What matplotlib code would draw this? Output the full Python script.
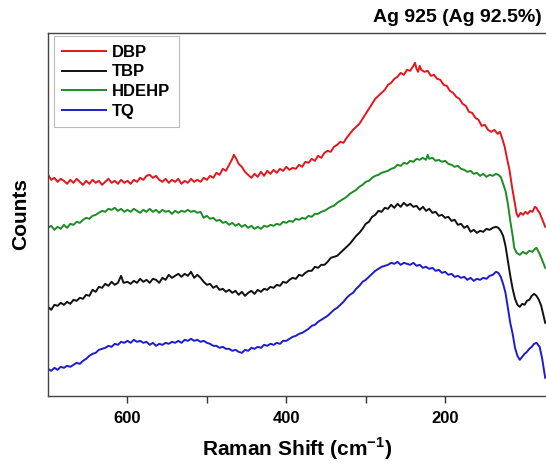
"""
Raman spectra of Ag 925 with the four extractants, stacked
"""

import numpy as np
import matplotlib
matplotlib.use("Agg")
import matplotlib.pyplot as plt
from matplotlib.ticker import FixedLocator

plt.rcParams["font.family"] = ["Liberation Sans", "DejaVu Sans"]
plt.rcParams["mathtext.fontset"] = "custom"
plt.rcParams["mathtext.rm"] = "Liberation Sans"
plt.rcParams["mathtext.bf"] = "Liberation Sans:bold"

# (Raman shift [cm-1], counts), offset arbitrary units
dbp_points = [
    (700, 221), (696, 216), (692, 218), (688, 214), (684, 217), (680, 215), (676, 212),
    (672, 216), (668, 213), (664, 217), (660, 214), (656, 211), (652, 215), (648, 212),
    (644, 216), (640, 213), (636, 215), (632, 211), (628, 214), (624, 217), (620, 213),
    (616, 215), (612, 212), (608, 216), (604, 213), (600, 215), (596, 212), (592, 216),
    (588, 214), (584, 218), (580, 216), (576, 220), (572, 221), (568, 218), (564, 220),
    (560, 216), (556, 214), (552, 217), (548, 213), (544, 216), (540, 214), (536, 217),
    (532, 212), (528, 215), (524, 213), (520, 217), (516, 214), (512, 216), (508, 214),
    (504, 218), (500, 216), (496, 220), (492, 218), (488, 223), (484, 221), (480, 227),
    (476, 225), (472, 231), (468, 237), (466, 241), (463, 237), (460, 232), (456, 229),
    (452, 224), (448, 221), (444, 218), (440, 222), (436, 219), (432, 224), (428, 220),
    (424, 225), (420, 222), (416, 226), (412, 223), (408, 227), (404, 225), (400, 229),
    (396, 226), (392, 228), (388, 227), (384, 231), (380, 229), (376, 234), (372, 233),
    (368, 237), (364, 235), (360, 240), (356, 238), (352, 243), (348, 245), (344, 244),
    (340, 249), (336, 251), (332, 254), (328, 253), (324, 258), (320, 262), (316, 266),
    (312, 269), (308, 272), (304, 277), (300, 282), (296, 287), (292, 292), (288, 297),
    (284, 300), (280, 303), (276, 306), (272, 311), (268, 313), (264, 317), (260, 319),
    (256, 323), (252, 321), (248, 326), (244, 325), (240, 330), (238, 333), (236, 327),
    (234, 324), (232, 330), (230, 326), (226, 324), (222, 325), (218, 320), (214, 321),
    (210, 317), (206, 316), (202, 311), (198, 310), (194, 305), (190, 303), (186, 299),
    (182, 297), (178, 292), (174, 290), (170, 284), (166, 283), (162, 278), (158, 276),
    (154, 270), (150, 271), (146, 266), (142, 264), (138, 266), (134, 262), (131, 264),
    (128, 257), (125, 249), (122, 237), (119, 226), (116, 210), (113, 196), (110, 182),
    (108, 179), (105, 183), (102, 181), (99, 184), (96, 182), (93, 185), (90, 184),
    (87, 189), (85, 188), (83, 185), (81, 183), (78, 177), (74, 169),
]

tbp_points = [
    (700, 89), (696, 86), (692, 91), (688, 90), (684, 93), (680, 91), (676, 94),
    (672, 92), (668, 96), (664, 95), (660, 98), (656, 97), (652, 101), (648, 100),
    (644, 106), (640, 104), (636, 109), (632, 108), (628, 112), (624, 110), (620, 114),
    (616, 111), (612, 113), (608, 120), (605, 113), (600, 114), (596, 112), (592, 115),
    (588, 113), (584, 117), (580, 114), (576, 116), (572, 113), (568, 117), (564, 116),
    (560, 113), (556, 118), (552, 116), (548, 121), (544, 118), (540, 120), (536, 122),
    (532, 119), (528, 122), (524, 120), (520, 124), (516, 118), (512, 121), (508, 118),
    (504, 114), (500, 111), (496, 112), (492, 108), (488, 110), (484, 106), (480, 107),
    (476, 104), (472, 106), (468, 103), (464, 105), (460, 101), (456, 104), (452, 100),
    (448, 103), (444, 105), (440, 102), (436, 106), (432, 104), (428, 107), (424, 106),
    (420, 109), (416, 108), (412, 111), (408, 110), (404, 114), (400, 113), (396, 116),
    (392, 118), (388, 117), (384, 121), (380, 120), (376, 123), (372, 125), (368, 125),
    (364, 129), (360, 128), (356, 131), (352, 131), (348, 134), (344, 138), (340, 139),
    (336, 140), (332, 143), (328, 146), (324, 149), (320, 152), (316, 156), (312, 160),
    (308, 163), (304, 167), (300, 172), (296, 174), (292, 179), (288, 181), (284, 185),
    (280, 184), (276, 188), (272, 187), (268, 191), (264, 188), (260, 192), (256, 189),
    (252, 193), (248, 190), (244, 192), (240, 189), (236, 190), (232, 186), (228, 189),
    (224, 185), (220, 187), (216, 183), (212, 184), (208, 180), (204, 181), (200, 178),
    (196, 179), (192, 175), (188, 176), (184, 171), (180, 172), (176, 168), (172, 170),
    (168, 164), (164, 166), (160, 163), (156, 165), (152, 164), (148, 167), (144, 166),
    (140, 168), (136, 169), (133, 168), (130, 165), (127, 160), (124, 150), (121, 135),
    (118, 120), (115, 107), (112, 97), (109, 91), (106, 89), (103, 92), (100, 91),
    (97, 95), (94, 96), (91, 100), (88, 102), (85, 100), (82, 96), (79, 90), (76, 80),
    (74, 73),
]

hdehp_points = [
    (700, 168), (696, 170), (692, 166), (688, 169), (684, 167), (680, 171), (676, 168),
    (672, 172), (668, 171), (664, 174), (660, 173), (656, 176), (652, 178), (648, 177),
    (644, 180), (640, 181), (636, 183), (632, 185), (628, 184), (624, 187), (620, 186),
    (616, 188), (612, 185), (608, 187), (604, 184), (600, 186), (596, 184), (592, 187),
    (588, 185), (584, 183), (580, 186), (576, 184), (572, 187), (568, 184), (564, 186),
    (560, 183), (556, 186), (552, 184), (548, 185), (544, 182), (540, 185), (536, 183),
    (532, 185), (528, 184), (524, 186), (520, 184), (516, 185), (512, 183), (508, 184),
    (504, 178), (500, 180), (496, 177), (492, 178), (488, 175), (484, 176), (480, 173),
    (476, 174), (472, 171), (468, 173), (464, 170), (460, 172), (456, 169), (452, 171),
    (448, 168), (444, 170), (440, 167), (436, 169), (432, 167), (428, 170), (424, 169),
    (420, 171), (416, 170), (412, 172), (408, 171), (404, 174), (400, 173), (396, 175),
    (392, 174), (388, 177), (384, 176), (380, 178), (376, 177), (372, 180), (368, 179),
    (364, 182), (360, 182), (356, 184), (352, 185), (348, 187), (344, 189), (340, 190),
    (336, 193), (332, 195), (328, 197), (324, 199), (320, 202), (316, 204), (312, 206),
    (308, 209), (304, 211), (300, 214), (296, 215), (292, 218), (288, 220), (284, 221),
    (280, 223), (276, 224), (272, 225), (268, 227), (264, 228), (260, 231), (256, 230),
    (252, 233), (248, 232), (244, 235), (240, 234), (236, 237), (232, 236), (228, 238),
    (224, 236), (222, 241), (220, 237), (216, 238), (212, 235), (208, 236), (204, 234),
    (200, 235), (196, 232), (192, 231), (188, 229), (184, 230), (180, 227), (176, 226),
    (172, 224), (168, 225), (164, 222), (160, 223), (156, 220), (152, 222), (148, 219),
    (144, 221), (140, 220), (136, 222), (133, 221), (130, 219), (127, 212), (124, 205),
    (121, 192), (118, 175), (115, 160), (113, 148), (110, 143), (106, 141), (102, 144),
    (98, 142), (94, 145), (90, 144), (87, 147), (85, 148), (83, 145), (81, 142),
    (78, 136), (74, 128),
]

tq_points = [
    (700, 27), (696, 25), (692, 28), (688, 26), (684, 29), (680, 28), (676, 30),
    (672, 29), (668, 31), (664, 33), (660, 32), (656, 35), (652, 37), (648, 40),
    (644, 42), (640, 43), (636, 46), (632, 47), (628, 48), (624, 50), (620, 49),
    (616, 52), (612, 51), (608, 54), (604, 53), (600, 55), (596, 53), (592, 56),
    (588, 54), (584, 55), (580, 53), (576, 54), (572, 51), (568, 53), (564, 50),
    (560, 52), (556, 51), (552, 53), (548, 52), (544, 54), (540, 53), (536, 55),
    (532, 53), (528, 56), (524, 55), (520, 57), (516, 55), (512, 56), (508, 54),
    (504, 55), (500, 53), (496, 52), (492, 50), (488, 50), (484, 48), (480, 49),
    (476, 47), (472, 47), (468, 45), (464, 46), (460, 44), (456, 43), (452, 46),
    (448, 45), (444, 48), (440, 47), (436, 49), (432, 48), (428, 51), (424, 50),
    (420, 52), (416, 51), (412, 53), (408, 52), (404, 55), (400, 55), (396, 57),
    (392, 59), (388, 60), (384, 62), (380, 63), (376, 65), (372, 67), (368, 70),
    (364, 71), (360, 74), (356, 76), (352, 78), (348, 80), (344, 83), (340, 86),
    (336, 88), (332, 91), (328, 94), (324, 98), (320, 101), (316, 103), (312, 107),
    (308, 110), (304, 114), (300, 116), (296, 119), (292, 122), (288, 125), (284, 127),
    (280, 129), (276, 130), (272, 131), (268, 133), (264, 132), (260, 134), (256, 131),
    (252, 133), (248, 132), (244, 131), (240, 133), (236, 130), (232, 131), (228, 128),
    (224, 129), (220, 127), (216, 128), (212, 125), (208, 126), (204, 123), (200, 124),
    (196, 121), (192, 122), (188, 119), (184, 120), (180, 118), (176, 119), (172, 116),
    (168, 118), (164, 115), (160, 117), (156, 116), (152, 118), (148, 117), (144, 120),
    (140, 121), (136, 124), (133, 123), (130, 119), (127, 112), (124, 103), (121, 88),
    (118, 73), (115, 62), (112, 48), (109, 40), (106, 36), (103, 39), (100, 42),
    (97, 44), (94, 47), (91, 49), (88, 52), (85, 53), (83, 51), (81, 49), (78, 38),
    (74, 18),
]

names = ["DBP", "TBP", "HDEHP", "TQ"]
colors = ["#e3161c", "#111111", "#1d8c24", "#1c1ccc"]

xticks_major = [600, 400, 200]
xticks_minor = [500, 300]


def make_figure():
    fig = plt.figure(figsize=(5.46, 4.69), dpi=100)
    ax = fig.add_axes([0.088, 0.156, 0.912, 0.774])

    spectra = [dbp_points, tbp_points, hdehp_points, tq_points]
    for pts, name, c in zip(spectra, names, colors):
        x, y = np.array(pts).T
        ax.plot(x, y, color=c, lw=1.4, label=name)

    ax.set_xlim(700, 73)
    ax.set_ylim(0, 363)

    ax.xaxis.set_major_locator(FixedLocator(xticks_major))
    ax.xaxis.set_minor_locator(FixedLocator(xticks_minor))
    ax.tick_params(axis="x", which="both", direction="out", length=5, width=1,
                   colors="#333333", labelcolor="black", labelsize=12, pad=6)
    for lab in ax.get_xticklabels():
        lab.set_fontweight("bold")
    ax.set_yticks([])

    ax.spines["right"].set_visible(False)
    for s in ["left", "bottom", "top"]:
        ax.spines[s].set_color("#444444")
        ax.spines[s].set_linewidth(1.0)

    ax.set_xlabel(r"Raman Shift (cm$^{\mathbf{-1}}$)", fontsize=15,
                  fontweight="bold", labelpad=7)
    ax.set_ylabel("Counts", fontsize=15, fontweight="bold", labelpad=13)
    fig.text(0.993, 0.945, "Ag 925 (Ag 92.5%)", ha="right", va="bottom",
             fontsize=14, fontweight="bold")

    leg = ax.legend(loc="upper left", bbox_to_anchor=(0.012, 0.99),
                    prop={"weight": "bold", "size": 12}, fancybox=False,
                    frameon=True, handlelength=2.6, handletextpad=0.4,
                    labelspacing=0.28, borderpad=0.5, borderaxespad=0.0)
    leg.get_frame().set_edgecolor("#aaaaaa")
    leg.get_frame().set_linewidth(0.8)

    fig.savefig("out.png", dpi=100)


make_figure()
